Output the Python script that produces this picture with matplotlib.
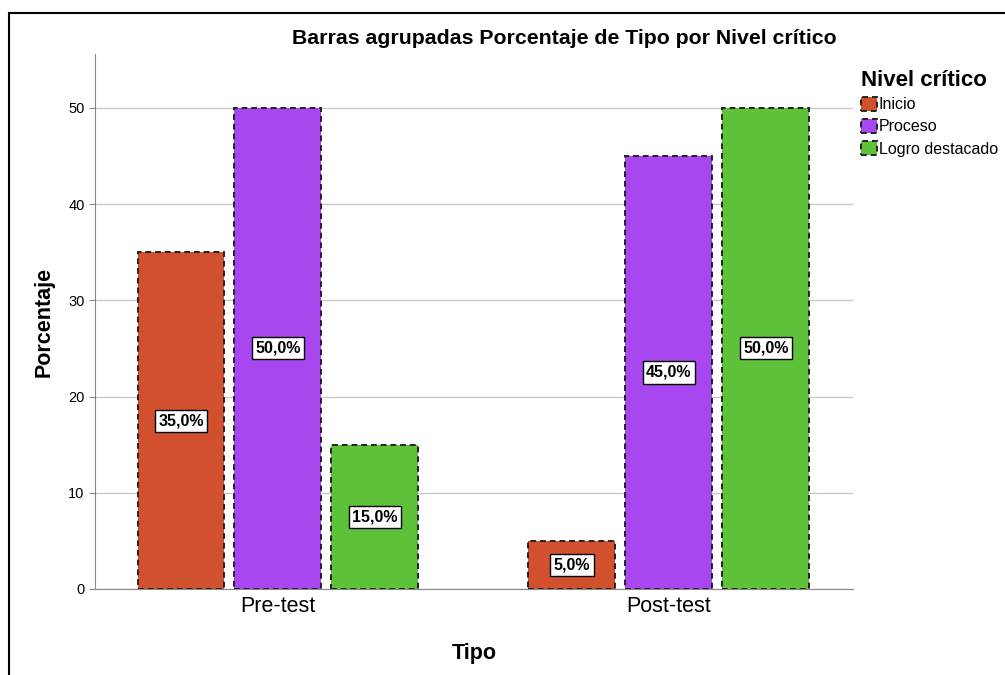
import matplotlib.pyplot as plt
from matplotlib.patches import Rectangle
import numpy as np

plt.rcParams['font.family'] = ['Liberation Sans', 'DejaVu Sans']

# data
tipos = ['Pre-test', 'Post-test']
niveles = ['Inicio', 'Proceso', 'Logro destacado']
inicio = [35.0, 5.0]
proceso = [50.0, 45.0]
logro = [15.0, 50.0]
colores = ['#d1512f', '#a846f0', '#5dc23a']

fig = plt.figure(figsize=(10.05, 6.75), dpi=100)
W, H = 1005, 675
ax = fig.add_axes([95 / W, 1 - 589 / H, (853 - 95) / W, (589 - 54) / H])

# outer frame like the SPSS viewer
fig.patches.append(Rectangle((9 / W, -0.1), 1.2, 1 - 13 / H + 0.1, transform=fig.transFigure,
                             fill=False, edgecolor='black', linewidth=1.5, zorder=0))

x = np.arange(len(tipos))
step = 0.248
width = 0.2225
series = [inicio, proceso, logro]
for i, (vals, nombre, col) in enumerate(zip(series, niveles, colores)):
    pos = x + (i - 1) * step
    bars = ax.bar(pos, vals, width, color=col, edgecolor='#222222', linestyle=(0, (3, 2)),
                  linewidth=1.4, label=nombre, zorder=3)
    for b, v in zip(bars, vals):
        ax.text(b.get_x() + b.get_width() / 2, v / 2, f'{v:.1f}%'.replace('.', ','),
                ha='center', va='center', fontsize=11.5, fontweight='bold', zorder=4,
                bbox=dict(boxstyle='square,pad=0.22', facecolor='white', edgecolor='black', linewidth=1))

ax.set_xlim(-0.468, 1.471)
ax.set_ylim(0, 55.6)
ax.set_yticks([0, 10, 20, 30, 40, 50])
ax.set_xticks(x)
ax.set_xticklabels(tipos, fontsize=15.5)
ax.tick_params(axis='x', length=0, pad=5)
ax.tick_params(axis='y', length=4, color='#888888', labelsize=10.5)
ax.yaxis.grid(True, color='#c8c8c8', linewidth=1, zorder=0)
ax.set_axisbelow(True)
for s in ['top', 'right']:
    ax.spines[s].set_visible(False)
ax.spines['left'].set_color('#888888')
ax.spines['bottom'].set_color('#888888')

ax.set_ylabel('Porcentaje', fontsize=15.5, fontweight='bold', labelpad=10)
ax.set_xlabel('Tipo', fontsize=15.5, fontweight='bold', labelpad=19)
fig.text(564 / W, 1 - 38 / H, 'Barras agrupadas Porcentaje de Tipo por Nivel crítico',
         ha='center', va='center', fontsize=15.3, fontweight='bold')

leg = ax.legend(title='Nivel crítico', loc='upper left', bbox_to_anchor=(853 / W, 1 - 62 / H),
                bbox_transform=fig.transFigure, frameon=False, fontsize=11.5, handlelength=1.0,
                handleheight=1.0, handletextpad=0.12, labelspacing=0.42, borderpad=0,
                title_fontproperties={'weight': 'bold', 'size': 16})
leg._legend_box.align = 'left'
leg._legend_box.sep = 4

fig.savefig('out.png', dpi=100)
